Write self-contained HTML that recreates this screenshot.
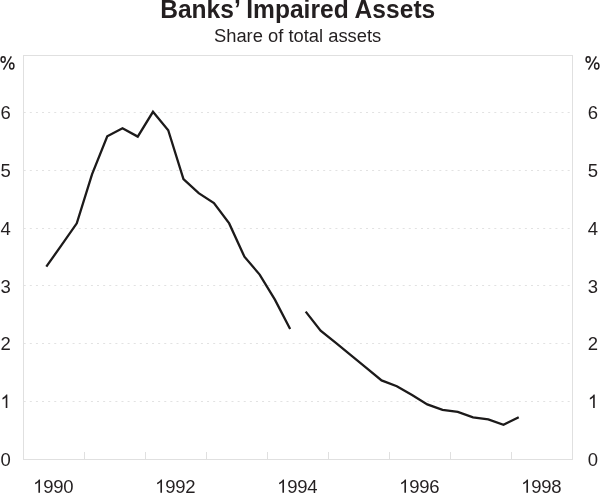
<!DOCTYPE html>
<html><head><meta charset="utf-8"><style>
html,body{margin:0;padding:0;background:#fff;width:600px;height:493px;overflow:hidden}
svg{display:block;will-change:transform;font-family:"Liberation Sans",sans-serif}
</style></head><body>
<svg width="600" height="493" viewBox="0 0 600 493">
<text transform="translate(297.7 17.5) scale(1 1.025)" text-anchor="middle" font-weight="bold" font-size="24.6" fill="#231f20">Banks’ Impaired Assets</text>
<text x="297.6" y="41.8" text-anchor="middle" font-size="18.35" fill="#231f20">Share of total assets</text>
<g stroke="#e2e2e2" stroke-width="1" stroke-dasharray="2 4.112" fill="none"><line x1="23.7" y1="401.5" x2="572" y2="401.5" /><line x1="23.7" y1="343.5" x2="572" y2="343.5" /><line x1="23.7" y1="285.5" x2="572" y2="285.5" /><line x1="23.7" y1="228.5" x2="572" y2="228.5" /><line x1="23.7" y1="170.5" x2="572" y2="170.5" /><line x1="23.7" y1="112.5" x2="572" y2="112.5" /></g>
<g stroke="#e0e0e0" stroke-width="1" fill="none">
<rect x="23.5" y="55.5" width="549.0" height="404.0" />
<line x1="84.5" y1="452" x2="84.5" y2="459.5" /><line x1="145.5" y1="452" x2="145.5" y2="459.5" /><line x1="206.5" y1="452" x2="206.5" y2="459.5" /><line x1="267.5" y1="452" x2="267.5" y2="459.5" /><line x1="328.5" y1="452" x2="328.5" y2="459.5" /><line x1="389.5" y1="452" x2="389.5" y2="459.5" /><line x1="450.5" y1="452" x2="450.5" y2="459.5" /><line x1="511.5" y1="452" x2="511.5" y2="459.5" />
</g>
<g font-size="18.5" fill="#231f20">
<text x="0.45" y="465.6">0</text><text x="587.85" y="465.6">0</text><path transform="translate(0.45 407.89) scale(0.009033 -0.009033)" d="M763 0L583 0L583 1147Q518 1085 412 1023Q306 961 221 930L221 1104Q372 1175 485 1276Q598 1377 645 1472L763 1472Z"/><path transform="translate(587.85 407.89) scale(0.009033 -0.009033)" d="M763 0L583 0L583 1147Q518 1085 412 1023Q306 961 221 930L221 1104Q372 1175 485 1276Q598 1377 645 1472L763 1472Z"/><text x="0.45" y="350.2">2</text><text x="587.85" y="350.2">2</text><text x="0.45" y="292.5">3</text><text x="587.85" y="292.5">3</text><text x="0.45" y="234.7">4</text><text x="587.85" y="234.7">4</text><text x="0.45" y="177.0">5</text><text x="587.85" y="177.0">5</text><text x="0.45" y="119.3">6</text><text x="587.85" y="119.3">6</text>
<g transform="translate(0 0)" fill="none" stroke="#231f20" stroke-width="1.45"><ellipse cx="3.15" cy="59.5" rx="2.07" ry="2.77"/><ellipse cx="11.75" cy="66.05" rx="2.17" ry="2.98"/><line x1="3.45" y1="69.6" x2="11.35" y2="56.3"/></g><g transform="translate(585 0)" fill="none" stroke="#231f20" stroke-width="1.45"><ellipse cx="3.15" cy="59.5" rx="2.07" ry="2.77"/><ellipse cx="11.75" cy="66.05" rx="2.17" ry="2.98"/><line x1="3.45" y1="69.6" x2="11.35" y2="56.3"/></g>
<path transform="translate(33.13 492.70) scale(0.009033 -0.009033)" d="M763 0L583 0L583 1147Q518 1085 412 1023Q306 961 221 930L221 1104Q372 1175 485 1276Q598 1377 645 1472L763 1472Z"/><text x="43.26" y="492.7" letter-spacing="-0.25">990</text><path transform="translate(155.13 492.70) scale(0.009033 -0.009033)" d="M763 0L583 0L583 1147Q518 1085 412 1023Q306 961 221 930L221 1104Q372 1175 485 1276Q598 1377 645 1472L763 1472Z"/><text x="165.26" y="492.7" letter-spacing="-0.25">992</text><path transform="translate(277.13 492.70) scale(0.009033 -0.009033)" d="M763 0L583 0L583 1147Q518 1085 412 1023Q306 961 221 930L221 1104Q372 1175 485 1276Q598 1377 645 1472L763 1472Z"/><text x="287.26" y="492.7" letter-spacing="-0.25">994</text><path transform="translate(399.13 492.70) scale(0.009033 -0.009033)" d="M763 0L583 0L583 1147Q518 1085 412 1023Q306 961 221 930L221 1104Q372 1175 485 1276Q598 1377 645 1472L763 1472Z"/><text x="409.26" y="492.7" letter-spacing="-0.25">996</text><path transform="translate(521.13 492.70) scale(0.009033 -0.009033)" d="M763 0L583 0L583 1147Q518 1085 412 1023Q306 961 221 930L221 1104Q372 1175 485 1276Q598 1377 645 1472L763 1472Z"/><text x="531.26" y="492.7" letter-spacing="-0.25">998</text>
</g>
<g stroke="#1c1a1a" stroke-width="2.3" fill="none" stroke-linejoin="miter" stroke-linecap="butt">
<path d="M46.30 266.60 L61.54 245.20 L76.78 223.30 L92.02 174.30 L107.26 136.30 L122.50 128.20 L137.74 136.60 L152.98 111.80 L168.22 130.20 L183.46 179.10 L198.70 193.20 L213.94 203.10 L229.18 223.40 L244.42 256.70 L259.66 274.60 L274.90 299.60 L290.14 329.00"/>
<path d="M305.70 311.60 L320.62 330.70 L335.86 342.90 L351.10 355.30 L366.34 367.90 L381.58 380.40 L396.82 386.20 L412.06 395.00 L427.30 404.40 L442.54 409.90 L457.78 411.80 L473.02 417.30 L488.26 419.40 L503.50 424.80 L518.74 417.20"/>
</g>
</svg>
</body></html>
